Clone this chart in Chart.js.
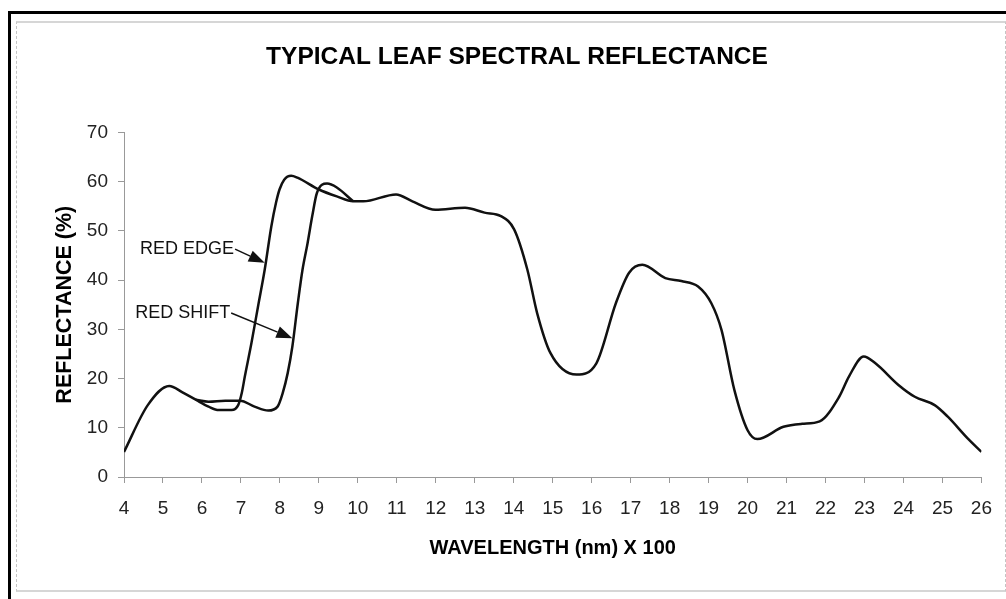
<!DOCTYPE html>
<html>
<head>
<meta charset="utf-8">
<script src="https://cdn.jsdelivr.net/npm/chart.js@4.4.0/dist/chart.umd.min.js"></script>
<style>
  html, body { margin: 0; padding: 0; background: #fff; }
  body { width: 1006px; height: 599px; position: relative; overflow: hidden; }
  .marco { position: absolute; left: 8px; top: 11px; width: 1010px; height: 600px; border-left: 3px solid #000; border-top: 3px solid #000; }
  .interior { position: absolute; left: 16px; top: 21px; width: 990px; height: 571px; box-sizing: border-box; border-left: 1px dashed #c4c4c4; border-right: 1px dashed #c4c4c4; border-top: 2px solid #d6d6d6; border-bottom: 2px solid #d6d6d6; }
  #grafico { position: absolute; left: 0; top: 0; }
</style>
</head>
<body>
<div class="marco"></div>
<div class="interior"></div>
<canvas id="grafico" width="1006" height="599"></canvas>
<script>
// curva principal (con el "red edge")
const longitudes = [4, 4.61, 5.16, 5.5, 5.84, 6.17, 6.43, 6.76, 6.93, 7.02, 7.1, 7.27, 7.44, 7.61, 7.78, 7.9, 7.99, 8.11, 8.29, 8.45, 9.0, 9.46, 9.88, 10.14, 10.98, 11.4, 11.99, 12.75, 13.25, 13.67, 14.01, 14.35, 14.6, 14.94, 15.61, 16.12, 16.62, 16.96, 17.3, 17.89, 18.3, 18.73, 19.07, 19.33, 19.66, 20.0, 20.25, 20.92, 21.4, 21.85, 22.35, 22.6, 22.98, 23.28, 23.87, 24.29, 24.8, 25.13, 25.64, 26]
const reflectancia = [5.1, 14.6, 18.5, 17.2, 15.7, 14.3, 13.6, 13.6, 14.6, 17.0, 20.4, 27.2, 34.7, 42.1, 50.9, 55.7, 58.4, 60.4, 61.2, 60.8, 58.4, 57.0, 56.0, 56.0, 57.4, 56.0, 54.3, 54.7, 53.7, 53.0, 50.3, 42.1, 33.3, 25.2, 20.8, 23.1, 35.3, 41.5, 43.1, 40.4, 39.8, 38.7, 35.3, 29.9, 17.7, 9.5, 7.7, 10.2, 10.8, 11.3, 16.3, 20.4, 24.5, 23.1, 18.7, 16.3, 14.6, 12.3, 7.9, 5.1]

// tramo desplazado ("red shift")
const longitudesDesplazada = [5.84, 6.17, 6.6, 6.98, 7.35, 7.7, 7.94, 8.07, 8.2, 8.32, 8.46, 8.58, 8.71, 8.83, 8.95, 9.21, 9.46, 9.88]
const reflectanciaDesplazada = [15.7, 15.3, 15.5, 15.5, 14.3, 13.5, 14.3, 17.0, 21.1, 26.5, 35.3, 42.1, 47.5, 53.0, 57.7, 59.6, 58.8, 56.0]

const ticksX = [4, 5, 6, 7, 8, 9, 10, 11, 12, 13, 14, 15, 16, 17, 18, 19, 20, 21, 22, 23, 24, 25, 26]
const ticksY = [0, 10, 20, 30, 40, 50, 60, 70]

const anotaciones = [
    { texto: 'RED EDGE', desde: [6.85, 46.3], hasta: [7.61, 43.5] },
    { texto: 'RED SHIFT', desde: [6.75, 33.3], hasta: [8.32, 28.2] }
]

const aPuntos = (xs, ys) => xs.map((x, i) => ({ x: x, y: ys[i] }))

const flechas = {
    id: 'flechas',
    afterDatasetsDraw(chart) {
        const ctx = chart.ctx
        const sx = chart.scales.x
        const sy = chart.scales.y
        ctx.save()
        ctx.fillStyle = '#111'
        ctx.strokeStyle = '#111'
        ctx.lineWidth = 1.5
        ctx.font = '18px "Liberation Sans", Arial, sans-serif'
        ctx.textAlign = 'right'
        ctx.textBaseline = 'middle'
        anotaciones.forEach((a) => {
            const x0 = sx.getPixelForValue(a.desde[0])
            const y0 = sy.getPixelForValue(a.desde[1])
            const x1 = sx.getPixelForValue(a.hasta[0])
            const y1 = sy.getPixelForValue(a.hasta[1])
            ctx.fillText(a.texto, x0 - 1, y0)
            const ang = Math.atan2(y1 - y0, x1 - x0)
            const largo = 16
            const ancho = 6
            const bx = x1 - largo * Math.cos(ang)
            const by = y1 - largo * Math.sin(ang)
            ctx.beginPath()
            ctx.moveTo(x0, y0)
            ctx.lineTo(bx, by)
            ctx.stroke()
            ctx.beginPath()
            ctx.moveTo(x1, y1)
            ctx.lineTo(bx + ancho * Math.sin(ang), by - ancho * Math.cos(ang))
            ctx.lineTo(bx - ancho * Math.sin(ang), by + ancho * Math.cos(ang))
            ctx.closePath()
            ctx.fill()
        })
        ctx.restore()
    }
}

const estiloLinea = {
    borderColor: '#111',
    borderWidth: 2.5,
    pointRadius: 0,
    fill: false,
    cubicInterpolationMode: 'monotone'
}

new Chart(document.getElementById('grafico'), {
    type: 'line',
    data: {
        datasets: [
            Object.assign({ label: 'Hoja', data: aPuntos(longitudes, reflectancia) }, estiloLinea),
            Object.assign({ label: 'Red shift', data: aPuntos(longitudesDesplazada, reflectanciaDesplazada) }, estiloLinea)
        ]
    },
    options: {
        responsive: false,
        animation: false,
        layout: { padding: { top: 22, left: 40, right: 12, bottom: 39 } },
        plugins: {
            legend: { display: false },
            tooltip: { enabled: false },
            title: {
                display: true,
                text: 'TYPICAL LEAF SPECTRAL REFLECTANCE',
                color: '#000',
                font: { family: '"Liberation Sans", Arial, sans-serif', size: 24.5, weight: 'bold' },
                padding: { top: 21, bottom: 60 }
            }
        },
        scales: {
            x: {
                type: 'linear',
                min: 4,
                max: 26,
                afterBuildTicks: (scale) => { scale.ticks = ticksX.map((v) => ({ value: v })) },
                afterFit: (scale) => { scale.height = 83 },
                grid: { drawOnChartArea: false, tickLength: 6, color: '#999' },
                border: { color: '#999' },
                ticks: {
                    color: '#222',
                    padding: 14,
                    maxRotation: 0,
                    font: { family: '"Liberation Sans", Arial, sans-serif', size: 19 }
                },
                title: {
                    display: true,
                    text: 'WAVELENGTH (nm) X 100',
                    color: '#000',
                    padding: 0,
                    font: { family: '"Liberation Sans", Arial, sans-serif', size: 20, weight: 'bold' }
                }
            },
            y: {
                min: 0,
                max: 70,
                afterBuildTicks: (scale) => { scale.ticks = ticksY.map((v) => ({ value: v })) },
                afterFit: (scale) => { scale.width = 84 },
                grid: { drawOnChartArea: false, tickLength: 6, color: '#999' },
                border: { color: '#999', dash: [2, 2] },
                ticks: {
                    color: '#222',
                    padding: 10,
                    font: { family: '"Liberation Sans", Arial, sans-serif', size: 19 }
                },
                title: {
                    display: true,
                    text: 'REFLECTANCE (%)',
                    color: '#000',
                    padding: { top: 12, bottom: 0 },
                    font: { family: '"Liberation Sans", Arial, sans-serif', size: 21.5, weight: 'bold' }
                }
            }
        }
    },
    plugins: [flechas]
});
</script>
</body>
</html>
